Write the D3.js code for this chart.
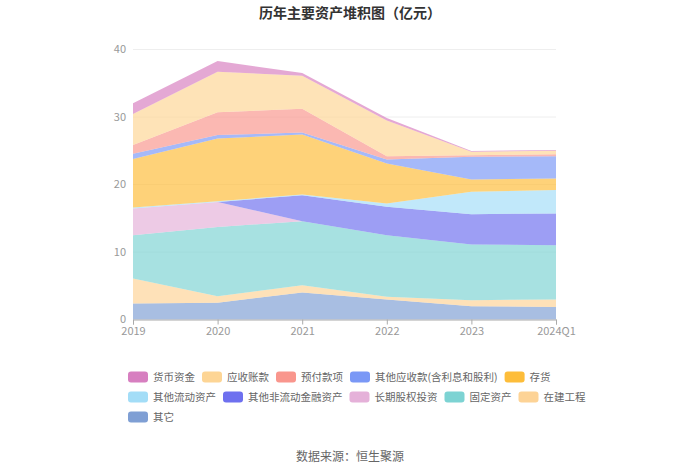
<!DOCTYPE html>
<html><head><meta charset="utf-8">
<script src="https://cdn.jsdelivr.net/npm/d3@7"></script>
<style>body{margin:0;background:#fff}svg{display:block}text{font-family:"Noto Sans CJK SC","Noto Sans",sans-serif}</style>
</head><body><svg id="c" width="700" height="474"></svg>
<script>
const categories = ['2019','2020','2021','2022','2023','2024Q1'];
const seriesNames = ['其它','在建工程','固定资产','长期股权投资','其他非流动金融资产','其他流动资产','存货','其他应收款(含利息和股利)','预付款项','应收账款','货币资金'];
const qita      = [2.37, 2.5, 4.0, 2.96, 1.97, 1.87];
const zaijian   = [3.7, 0.95, 1.08, 0.4, 0.9, 1.1];
const guding    = [6.42, 10.27, 9.48, 9.14, 8.25, 8.04];
const changqi   = [3.95, 3.7, 0, 0, 0, 0];
const feiliudong= [0, 0, 3.85, 4.2, 4.49, 4.7];
const liudong   = [0.15, 0.1, 0.1, 0.5, 3.3, 3.46];
const cunhuo    = [7.2, 9.3, 8.9, 5.9, 1.84, 1.73];
const qitaying  = [0.75, 0.5, 0.3, 0.6, 3.35, 3.3];
const yufu      = [1.3, 3.37, 3.5, 0.5, 0.25, 0.3];
const yingshou  = [4.6, 6.0, 4.9, 5.3, 0.5, 0.5];
const huobi     = [1.6, 1.6, 0.4, 0.35, 0.12, 0.1];
const yTicks = [0, 10, 20, 30, 40];
const legendOrder = ['货币资金','应收账款','预付款项','其他应收款(含利息和股利)','存货','其他流动资产','其他非流动金融资产','长期股权投资','固定资产','在建工程','其它'];

const values = [qita, zaijian, guding, changqi, feiliudong, liudong, cunhuo, qitaying, yufu, yingshou, huobi];
const colors = {
  '货币资金':'#d77fc0','应收账款':'#fdd595','预付款项':'#f9968d','其他应收款(含利息和股利)':'#7a98f6',
  '存货':'#fdbd3a','其他流动资产':'#a3ddf7','其他非流动金融资产':'#6e70ef','长期股权投资':'#e5b1d9',
  '固定资产':'#7dd3d3','在建工程':'#fdd396','其它':'#7f9fd4'
};

const table = categories.map((c, i) => {
  const r = {cat: c};
  seriesNames.forEach((n, k) => r[n] = values[k][i]);
  return r;
});

const svg = d3.select('#c');
const x = d3.scalePoint().domain(categories).range([133, 556]);
const y = d3.scaleLinear().domain([0, 40]).range([319.5, 49.5]);

// grid
svg.append('g').selectAll('line').data(yTicks.slice(1)).join('line')
  .attr('x1', 133).attr('x2', 556).attr('y1', d => y(d)).attr('y2', d => y(d))
  .attr('stroke', '#eeeeee').attr('stroke-width', 1);

const stacked = d3.stack().keys(seriesNames)(table);
const area = d3.area().x(d => x(d.data.cat)).y0(d => y(d[0])).y1(d => y(d[1]));
svg.append('g').selectAll('path').data(stacked).join('path')
  .attr('d', area).attr('fill', d => colors[d.key]).attr('fill-opacity', 0.68);

// y axis labels
svg.append('g').selectAll('text').data(yTicks).join('text')
  .attr('x', 126).attr('y', d => y(d)).attr('dy', '0.35em').attr('text-anchor', 'end')
  .attr('font-size', 11).attr('fill', '#999').text(d => d);

// x axis
const xa = svg.append('g').attr('transform', 'translate(0,319.5)')
  .call(d3.axisBottom(x).tickSize(5).tickPadding(3));
xa.select('.domain').attr('stroke', '#aaa');
xa.selectAll('.tick line').attr('stroke', '#aaa');
xa.selectAll('.tick text').attr('fill', '#999').attr('font-size', 11)
  .attr('font-family', '"Noto Sans CJK SC","Noto Sans",sans-serif');

// title
svg.append('text').attr('x', 350).attr('y', 18).attr('text-anchor', 'middle')
  .attr('font-size', 14).attr('font-weight', 'bold').attr('fill', '#333')
  .text('历年主要资产堆积图（亿元）');

// legend
const lg = svg.append('g');
let lx = 128, ly = 377;
const maxX = 600, gap = 7, fs = 10.5;
legendOrder.forEach(name => {
  const t = lg.append('text').attr('font-size', fs).attr('fill', '#666').attr('dy', '0.35em').text(name);
  const w = t.node().getComputedTextLength();
  if (lx + 25 + w > maxX) { lx = 128; ly += 20; }
  lg.append('rect').attr('x', lx).attr('y', ly - 5.5).attr('width', 20).attr('height', 11)
    .attr('rx', 3).attr('fill', colors[name]);
  t.attr('x', lx + 25).attr('y', ly);
  lx += 25 + w + gap;
});

// source
svg.append('text').attr('x', 350).attr('y', 461).attr('text-anchor', 'middle')
  .attr('font-size', 12).attr('fill', '#666').text('数据来源：恒生聚源');
</script></body></html>
